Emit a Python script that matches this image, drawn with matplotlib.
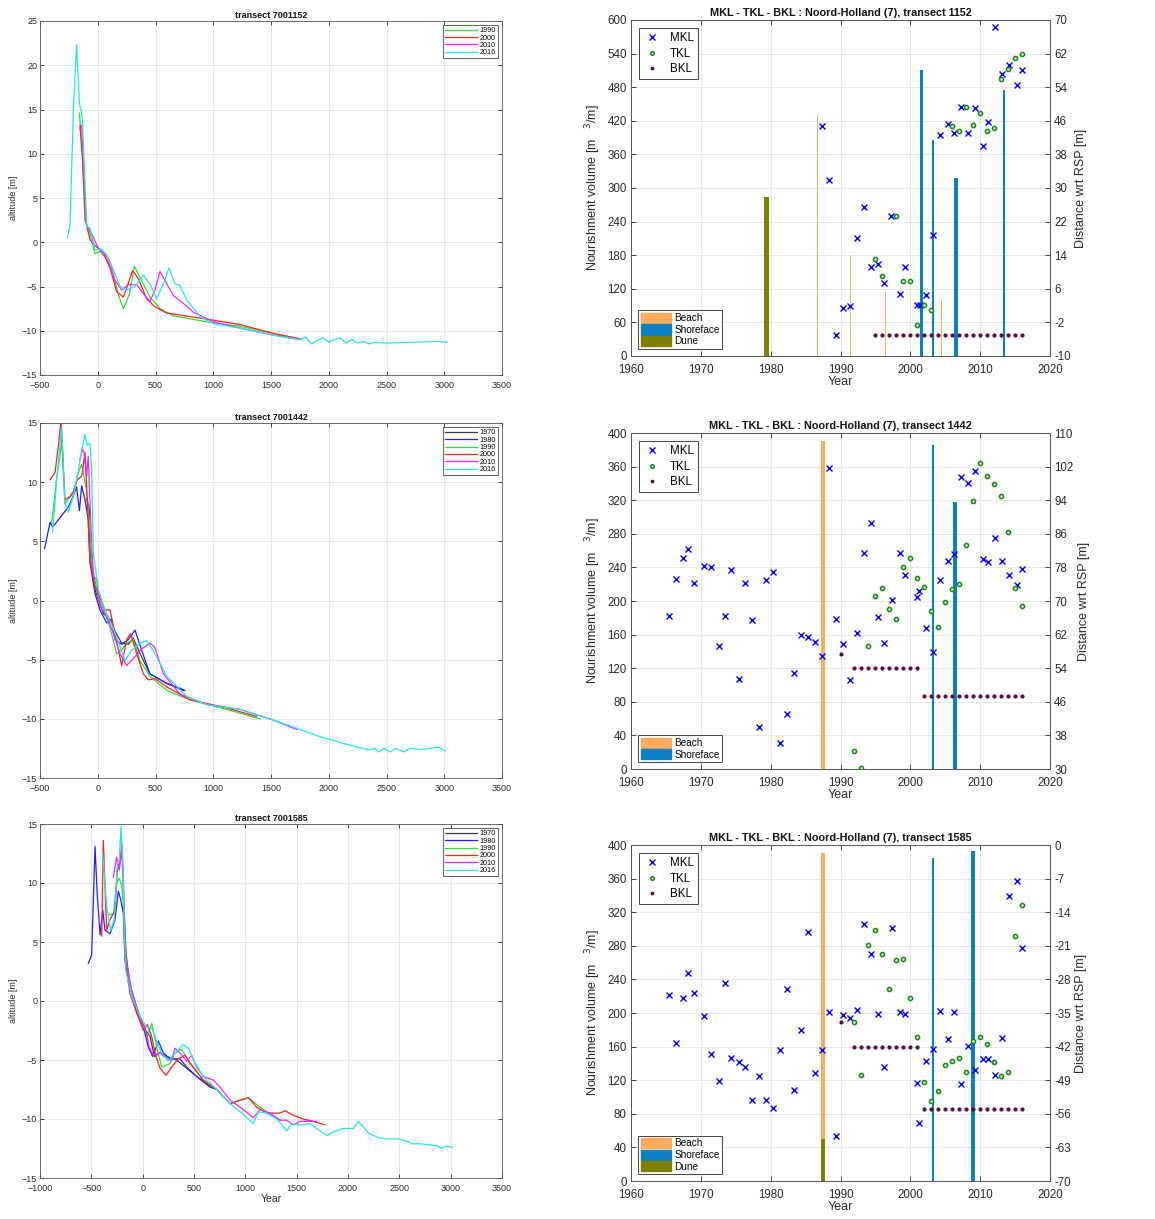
import matplotlib
matplotlib.use("Agg")
import matplotlib.pyplot as plt
from matplotlib.patches import Patch

plt.rcParams['font.family'] = ['Liberation Sans', 'DejaVu Sans']

# ---------------- profile data (cross-shore distance [m], altitude [m]) ----------------
p1152_1990 = [(-159, 14.6), (-148, 12.8), (-131, 9.3), (-110, 2.5), (-67, 1.0), (-24, -1.3), (19, -1.0),
              (63, -1.7), (120, -2.8), (178, -5.9), (222, -7.5), (273, -5.9), (317, -2.7), (366, -4.0),
              (452, -6.2), (539, -7.5), (654, -8.3), (943, -9.0), (1232, -9.5), (1520, -10.3), (1693, -10.9)]
p1152_2000 = [(-154, 13.2), (-131, 9.3), (-107, 2.5), (-67, 0.3), (-24, -0.4), (48, -1.2), (106, -2.9),
              (164, -5.6), (222, -6.2), (265, -4.6), (302, -3.2), (351, -4.1), (424, -6.4), (496, -7.3),
              (597, -8.0), (799, -8.4), (1001, -8.8), (1232, -9.3), (1520, -10.3), (1751, -10.9)]
p1152_2010 = [(-154, 12.8), (-139, 13.2), (-125, 9.3), (-96, 1.8), (-53, 1.0), (5, -0.7), (77, -1.6),
              (149, -4.3), (207, -5.4), (265, -4.8), (337, -4.8), (395, -5.8), (452, -6.7), (496, -5.4),
              (539, -3.3), (597, -4.7), (654, -6.0), (741, -6.9), (828, -7.9), (1001, -9.0), (1232, -9.7),
              (1520, -10.5), (1751, -11.0)]
p1152_2016 = [(-263, 0.5), (-240, 2.0), (-211, 15.0), (-183, 22.3), (-159, 15.7), (-136, 14.4), (-119, 9.3),
              (-96, 1.8), (-67, 1.6), (-24, -0.9), (25, -0.7), (77, -1.4), (135, -3.1), (193, -5.0),
              (250, -5.4), (323, -5.0), (395, -3.7), (452, -4.7), (510, -6.4), (568, -4.7), (617, -2.9),
              (669, -4.7), (712, -4.9), (770, -6.5), (885, -8.4), (1001, -9.2), (1232, -9.7), (1520, -10.5),
              (1751, -11.0), (1800, -10.7), (1850, -11.5), (1900, -11.1), (1950, -10.8), (2000, -11.3),
              (2050, -11.0), (2100, -10.8), (2150, -11.4), (2200, -11.0), (2250, -11.4), (2300, -11.2),
              (2350, -11.5), (2400, -11.3), (2500, -11.4), (2700, -11.3), (2950, -11.2), (3020, -11.3)]

p1442_1970 = [(-96, 8.6), (-73, 7.8), (-67, 4.4), (-24, 0.9), (48, -1.1), (106, -1.6), (149, -2.6),
              (207, -3.6), (265, -3.7), (308, -3.2), (366, -4.5), (452, -6.2), (597, -7.0), (683, -7.3),
              (755, -7.6)]
p1442_1980 = [(-460, 4.4), (-413, 6.6), (-390, 6.2), (-255, 7.9), (-226, 8.5), (-183, 9.6), (-159, 7.6),
              (-139, 9.7), (-110, 8.5), (-82, 6.8), (-67, 3.2), (-24, 0.6), (19, -0.8), (77, -1.9),
              (120, -1.6), (149, -3.3), (207, -3.7), (265, -3.3), (323, -2.5), (380, -4.2), (452, -6.2),
              (597, -7.0), (741, -7.6)]
p1442_1990 = [(-399, 6.5), (-356, 10.3), (-327, 12.2), (-312, 13.6), (-284, 8.2), (-211, 9.1), (-168, 10.8),
              (-139, 11.5), (-96, 9.3), (-73, 6.8), (-53, 3.3), (5, 0.2), (63, -1.1), (106, -2.3),
              (164, -4.5), (207, -4.2), (250, -3.6), (308, -3.3), (366, -5.1), (452, -6.4), (597, -7.6),
              (799, -8.4), (1116, -9.2), (1405, -10.0)]
p1442_2000 = [(-413, 10.2), (-370, 10.8), (-341, 13.1), (-318, 15.2), (-284, 8.5), (-240, 8.8), (-211, 9.2),
              (-177, 10.2), (-139, 10.5), (-110, 12.5), (-96, 9.5), (-67, 3.3), (-24, 1.2), (5, 0.6),
              (63, -0.8), (106, -0.8), (149, -2.8), (207, -5.5), (250, -3.3), (285, -2.8), (337, -4.5),
              (395, -6.2), (438, -6.7), (496, -6.6), (597, -7.3), (799, -8.4), (1087, -9.0), (1376, -9.8)]
p1442_2010 = [(-154, 11.9), (-131, 12.8), (-119, 12.5), (-96, 10.5), (-82, 12.2), (-61, 6.8), (-38, 2.0),
              (-9, 1.8), (19, -0.5), (77, -1.3), (135, -2.8), (193, -4.5), (250, -5.5), (308, -4.9),
              (380, -4.1), (452, -3.6), (496, -4.0), (568, -6.2), (712, -7.9), (943, -8.8), (1232, -9.2),
              (1520, -10.1), (1722, -10.9)]
p1442_2016 = [(-390, 5.8), (-356, 10.2), (-312, 14.7), (-284, 8.2), (-255, 7.5), (-211, 8.8), (-168, 11.0),
              (-139, 12.7), (-110, 14.0), (-90, 13.1), (-67, 13.3), (-53, 11.0), (-38, 4.0), (5, 0.9),
              (63, -0.8), (120, -2.0), (193, -3.9), (236, -5.1), (294, -4.2), (366, -3.6), (424, -3.4),
              (496, -4.5), (597, -6.4), (770, -8.1), (943, -8.8), (1232, -9.2), (1520, -10.1), (1924, -11.5),
              (2100, -12.0), (2250, -12.4), (2350, -12.6), (2400, -12.5), (2430, -12.8), (2480, -12.5),
              (2530, -12.8), (2580, -12.5), (2650, -12.8), (2700, -12.5), (2800, -12.6), (2950, -12.4),
              (3010, -12.7)]

p1585_1970 = [(-195, 8.0), (-178, 7.2), (-162, 4.0), (-123, 1.2), (-58, -1.0), (7, -2.2), (72, -3.0),
              (114, -4.7), (169, -4.4), (234, -4.7), (331, -5.0), (429, -5.7), (526, -6.4), (624, -7.0),
              (721, -7.5)]
p1585_1980 = [(-529, 3.2), (-497, 3.9), (-464, 13.1), (-441, 8.8), (-415, 5.6), (-389, 7.7), (-367, 6.0),
              (-318, 5.7), (-269, 6.9), (-237, 9.3), (-214, 8.6), (-188, 7.4), (-172, 3.5), (-139, 1.8),
              (-58, -0.5), (7, -2.2), (55, -3.9), (98, -4.7), (153, -3.4), (202, -4.4), (266, -4.9),
              (364, -4.9), (429, -5.6), (526, -6.4), (656, -7.3), (721, -7.5)]
p1585_1990 = [(-325, 7.3), (-285, 7.4), (-253, 10.0), (-227, 10.4), (-204, 9.8), (-182, 7.4), (-165, 3.5),
              (-107, 0.6), (-26, -1.3), (46, -3.0), (65, -2.5), (88, -1.9), (137, -3.9), (185, -5.6),
              (266, -5.3), (315, -4.4), (380, -4.1), (445, -5.0), (591, -6.7), (721, -7.5), (851, -8.7),
              (948, -8.4), (1030, -8.2), (1143, -9.0), (1273, -9.8), (1338, -10.1)]
p1585_2000 = [(-399, 5.5), (-383, 13.6), (-367, 9.7), (-350, 6.0), (-318, 6.9), (-269, 7.7), (-247, 11.1),
              (-227, 11.4), (-204, 12.7), (-188, 9.7), (-172, 3.5), (-123, 0.6), (-58, -1.0), (7, -2.5),
              (46, -2.0), (88, -3.0), (120, -4.4), (169, -5.7), (228, -6.3), (283, -5.6), (348, -4.9),
              (413, -4.6), (461, -5.3), (591, -6.7), (721, -7.5), (851, -8.7), (916, -8.5), (1030, -8.2),
              (1111, -9.0), (1208, -9.5), (1338, -9.5), (1387, -9.3), (1468, -9.7), (1565, -10.0),
              (1663, -10.2), (1776, -10.5)]
p1585_2010 = [(-285, 10.5), (-253, 12.2), (-227, 11.1), (-204, 13.4), (-188, 10.8), (-172, 4.0), (-107, 0.9),
              (-26, -1.6), (23, -2.2), (65, -3.9), (104, -4.6), (169, -4.4), (234, -4.9), (283, -5.0),
              (315, -4.0), (364, -4.4), (429, -5.1), (478, -4.6), (526, -5.6), (591, -6.4), (689, -6.7),
              (753, -7.3), (851, -8.4), (981, -9.2), (1078, -9.9), (1143, -9.2), (1241, -9.5), (1338, -10.1),
              (1403, -10.1), (1468, -10.5), (1533, -10.2), (1598, -10.2), (1695, -10.2)]
p1585_2016 = [(-389, 12.5), (-350, 8.0), (-311, 6.0), (-276, 6.9), (-247, 11.7), (-227, 12.0), (-211, 14.8),
              (-195, 12.2), (-182, 6.9), (-165, 2.6), (-107, 0.4), (-26, -1.3), (39, -2.2), (88, -2.3),
              (137, -3.4), (185, -4.4), (250, -5.1), (315, -4.4), (396, -3.7), (445, -4.0), (494, -5.0),
              (591, -6.4), (721, -7.5), (851, -8.7), (965, -9.5), (1078, -10.4), (1127, -9.4), (1208, -9.5),
              (1306, -10.0), (1403, -11.0), (1452, -10.4), (1533, -10.5), (1630, -10.4), (1695, -10.8),
              (1793, -11.4), (1858, -11.1), (1955, -10.8), (2052, -10.8), (2101, -10.2), (2200, -11.2),
              (2300, -11.6), (2400, -11.7), (2500, -11.7), (2580, -11.9), (2620, -12.1), (2700, -12.1),
              (2800, -12.2), (2880, -12.3), (2910, -12.5), (2950, -12.3), (3020, -12.4)]

# ---------------- nourishment bars (year, volume m3/m) ----------------
n1152_beach = [(1986.7, 430), (1991.4, 180), (1996.4, 115), (2004.5, 100)]
n1152_shore = [(2001.6, 510), (2003.25, 385), (2006.5, 318), (2013.45, 475)]
n1152_dune = [(1979.45, 284)]
n1442_beach = [(1987.47, 390)]
n1442_shore = [(2003.25, 386), (2006.45, 318)]
n1585_beach = [(1987.5, 390)]
n1585_shore = [(2003.25, 385), (2008.97, 393)]
n1585_dune = [(1987.5, 50)]

# ---------------- MKL / TKL / BKL (year, distance wrt RSP [m]) ----------------
mkl_1152 = [(1987.4, 44.7), (1988.3, 31.8), (1989.4, -5.1), (1990.3, 1.5), (1991.3, 2.0), (1992.3, 18.1),
            (1993.3, 25.5), (1994.3, 11.2), (1995.3, 12.0), (1996.3, 7.4), (1997.3, 23.3), (1998.5, 4.8),
            (1999.3, 11.1), (2000.9, 2.1), (2001.4, 2.1), (2002.2, 4.6), (2003.3, 18.7), (2004.3, 42.5),
            (2005.4, 45.2), (2006.3, 43.1), (2007.3, 49.3), (2008.3, 43.2), (2009.3, 49.1), (2010.4, 40.0),
            (2011.1, 45.7), (2012.1, 68.3), (2013.1, 57.1), (2014.1, 59.4), (2015.3, 54.6), (2016.0, 58.2)]
tkl_1152 = [(1995, 13.0), (1996, 9.0), (1998, 23.3), (1999, 7.9), (2000, 7.9), (2001, -2.7), (2002, 2.2),
            (2003, 0.9), (2006, 44.7), (2007, 43.5), (2008, 49.3), (2009, 45.1), (2010, 47.9), (2011, 43.5),
            (2012, 44.3), (2013, 55.9), (2014, 58.4), (2015, 61.0), (2016, 62.0)]
bkl_1152 = [(1995, -5), (1996, -5), (1997, -5), (1998, -5), (1999, -5), (2000, -5), (2001, -5), (2002, -5),
            (2003, -5), (2004, -5), (2005, -5), (2006, -5), (2007, -5), (2008, -5), (2009, -5), (2010, -5),
            (2011, -5), (2012, -5), (2013, -5), (2014, -5), (2015, -5), (2016, -5)]

mkl_1442 = [(1965.5, 66.5), (1966.4, 75.2), (1967.5, 80.3), (1968.1, 82.5), (1969.0, 74.2), (1970.5, 78.4),
            (1971.5, 78.0), (1972.6, 59.4), (1973.4, 66.4), (1974.3, 77.5), (1975.5, 51.5), (1976.3, 74.4),
            (1977.3, 65.4), (1978.4, 40.0), (1979.3, 75.0), (1980.3, 76.9), (1981.4, 36.1), (1982.3, 43.1),
            (1983.3, 52.8), (1984.3, 61.9), (1985.4, 61.5), (1986.4, 60.2), (1987.4, 56.9), (1988.3, 101.7),
            (1989.4, 65.8), (1990.4, 59.8), (1991.3, 51.1), (1992.3, 62.3), (1993.3, 81.5), (1994.3, 88.6),
            (1995.3, 66.1), (1996.3, 60.1), (1997.4, 70.3), (1998.5, 81.4), (1999.3, 76.2), (2001.0, 70.9),
            (2001.3, 72.5), (2002.2, 63.5), (2003.3, 57.9), (2004.3, 74.9), (2005.4, 79.6), (2006.3, 81.2),
            (2007.3, 99.5), (2008.3, 98.0), (2009.3, 101.0), (2010.4, 80.0), (2011.1, 79.2), (2012.1, 85.0),
            (2013.1, 79.5), (2014.1, 76.1), (2015.3, 73.8), (2016.0, 77.7)]
tkl_1442 = [(1992, 34.3), (1993, 30.3), (1994, 59.2), (1995, 71.1), (1996, 73.0), (1997, 68.2), (1998, 65.8),
            (1999, 78.2), (2000, 80.2), (2001, 75.4), (2002, 73.4), (2003, 67.7), (2004, 63.8), (2005, 69.7),
            (2006, 72.8), (2007, 74.1), (2008, 83.3), (2009, 93.8), (2010, 102.9), (2011, 99.8), (2012, 97.8),
            (2013, 94.9), (2014, 86.4), (2015, 73.0), (2016, 68.9)]
bkl_1442 = [(1990, 57.3), (1992, 54), (1993, 54), (1994, 54), (1995, 54), (1996, 54), (1997, 54), (1998, 54),
            (1999, 54), (2000, 54), (2001, 54), (2002, 47.4), (2003, 47.4), (2004, 47.4), (2005, 47.4),
            (2006, 47.4), (2007, 47.4), (2008, 47.4), (2009, 47.4), (2010, 47.4), (2011, 47.4), (2012, 47.4),
            (2013, 47.4), (2014, 47.4), (2015, 47.4), (2016, 47.4)]

mkl_1585 = [(1965.5, -31.3), (1966.4, -41.3), (1967.5, -31.9), (1968.1, -26.7), (1969.0, -30.9), (1970.5, -35.7),
            (1971.5, -43.5), (1972.6, -49.1), (1973.4, -28.7), (1974.3, -44.4), (1975.5, -45.3), (1976.3, -46.3),
            (1977.3, -53.2), (1978.4, -48.1), (1979.3, -53.2), (1980.3, -54.7), (1981.4, -42.7), (1982.3, -29.9),
            (1983.3, -51.1), (1984.3, -38.6), (1985.4, -18.1), (1986.4, -47.6), (1987.4, -42.7), (1988.3, -34.7),
            (1989.4, -60.6), (1990.4, -35.4), (1991.3, -36.0), (1992.3, -34.3), (1993.3, -16.4), (1994.3, -22.7),
            (1995.3, -35.3), (1996.3, -46.3), (1997.4, -17.2), (1998.5, -34.7), (1999.3, -35.3), (2001.0, -49.5),
            (2001.3, -58.0), (2002.2, -44.9), (2003.3, -42.6), (2004.3, -34.5), (2005.4, -40.4), (2006.3, -34.7),
            (2007.3, -49.8), (2008.3, -41.8), (2009.3, -46.8), (2010.4, -44.5), (2011.1, -44.5), (2012.1, -48.0),
            (2013.1, -40.3), (2014.1, -10.6), (2015.3, -7.6), (2016.0, -21.5)]
tkl_1585 = [(1992, -36.9), (1993, -47.9), (1994, -20.8), (1995, -17.8), (1996, -22.8), (1997, -29.9),
            (1998, -24.0), (1999, -23.8), (2000, -31.9), (2001, -39.9), (2002, -49.4), (2003, -53.3),
            (2004, -51.3), (2005, -45.9), (2006, -44.9), (2007, -44.4), (2008, -47.2), (2009, -40.8),
            (2010, -40.0), (2011, -41.5), (2012, -45.3), (2013, -48.1), (2014, -47.2), (2015, -19.0), (2016, -12.5)]
bkl_1585 = [(1990, -36.9), (1992, -42), (1993, -42), (1994, -42), (1995, -42), (1996, -42), (1997, -42),
            (1998, -42), (1999, -42), (2000, -42), (2001, -42), (2002, -55), (2003, -55), (2004, -55),
            (2005, -55), (2006, -55), (2007, -55), (2008, -55), (2009, -55), (2010, -55), (2011, -55),
            (2012, -55), (2013, -55), (2014, -55), (2015, -55), (2016, -55)]

# ---------------- styles ----------------
YEAR_COLORS = {'1970': '#3a3a3a', '1980': '#1f1fff', '1990': '#2ee02e', '2000': '#ff2020',
               '2010': '#ff20ff', '2016': '#20e8e8'}
C_BEACH, C_SHORE, C_DUNE = '#fdab5c', '#0a80c4', '#7f7f00'
TXT = '#262626'
W, H = 1155, 1219

fig = plt.figure(figsize=(W / 100, H / 100), dpi=100)


def px_axes(left, top, right, bottom):
    return fig.add_axes([left / W, 1 - bottom / H, (right - left) / W, (bottom - top) / H])


def profile_panel(box, title, profiles, xlim, ylim, xlabel=None):
    ax = px_axes(*box)
    for year, pts in profiles:
        ax.plot([p[0] for p in pts], [p[1] for p in pts], color=YEAR_COLORS[year], lw=0.9, label=year)
    ax.set_xlim(*xlim)
    ax.set_ylim(*ylim)
    ax.set_xticks(range(xlim[0], xlim[1] + 1, 500))
    ax.set_yticks(range(ylim[0], ylim[1] + 1, 5))
    ax.grid(True, color='#e3e3e3', lw=0.6)
    ax.set_axisbelow(True)
    ax.tick_params(direction='in', top=True, right=True, labelsize=6.5, colors=TXT, length=3, width=0.6, pad=2)
    ax.tick_params(axis='x', pad=4)
    for s in ax.spines.values():
        s.set_color('#555555')
        s.set_linewidth(0.6)
    ax.set_title(title, fontsize=6.5, fontweight='bold', pad=2, color='#111111')
    ax.set_ylabel('altitude [m]', fontsize=6.5, color=TXT, labelpad=3)
    if xlabel:
        ax.set_xlabel(xlabel, fontsize=7.5, color=TXT, labelpad=1)
    leg = ax.legend(loc='upper right', fontsize=5.2, handlelength=4.5, labelspacing=0.05, borderpad=0.25,
                    handletextpad=0.3, fancybox=False, edgecolor='#444444', framealpha=1, borderaxespad=0.6)
    leg.get_frame().set_linewidth(0.6)
    return ax


def nourish_panel(box, title, beach, shore, dune, mkl, tkl, bkl, ylim2, beach_w, shore_w, dune_w):
    ax = px_axes(*box)
    ax.bar([b[0] for b in beach], [b[1] for b in beach], width=beach_w, color=C_BEACH, zorder=2)
    ax.bar([b[0] for b in shore], [b[1] for b in shore], width=shore_w, color=C_SHORE, zorder=2)
    if dune:
        ax.bar([b[0] for b in dune], [b[1] for b in dune], width=dune_w, color=C_DUNE, zorder=3)
    ax.set_xlim(1960, 2020)
    ymax = 600 if len(beach) > 1 else 400
    ax.set_ylim(0, ymax)
    ax.set_yticks(range(0, ymax + 1, ymax // 10))
    ax.set_xticks(range(1960, 2021, 10))
    ax.grid(True, color='#e6e6e6', lw=0.7)
    ax.set_axisbelow(True)
    ax.tick_params(direction='in', top=True, labelsize=8.3, colors=TXT, length=3.5, width=0.6, pad=3)
    ax.tick_params(axis='x', pad=6)
    ax.set_xlabel('Year', fontsize=9, color=TXT, labelpad=0)
    ax.set_ylabel('Nourishment volume [m   $^{3}$/m]', fontsize=9, color=TXT, labelpad=3)
    ax.set_title(title, fontsize=7.8, fontweight='bold', pad=3, color='#111111')

    ax2 = ax.twinx()
    ax2.plot([p[0] for p in mkl], [p[1] for p in mkl], 'x', color='#0000ff', ms=5, mew=1.0, label='MKL')
    ax2.plot([p[0] for p in tkl], [p[1] for p in tkl], 'o', mfc='#d8f2d8', mec='#138a13', ms=3.0, mew=1.1,
             label='TKL')
    ax2.plot([p[0] for p in bkl], [p[1] for p in bkl], '.', color='#5a0a46', ms=4, label='BKL')
    ax2.set_ylim(*ylim2)
    step = (ylim2[1] - ylim2[0]) / 10
    ax2.set_yticks([ylim2[0] + i * step for i in range(11)])
    ax2.yaxis.set_major_formatter(matplotlib.ticker.FuncFormatter(lambda v, p: '%d' % round(v)))
    ax2.tick_params(direction='in', labelsize=8.3, colors=TXT, length=3.5, width=0.6, pad=3)
    ax2.set_ylabel('Distance wrt RSP [m]', fontsize=9, color=TXT, labelpad=3)
    for a in (ax, ax2):
        for s in a.spines.values():
            s.set_color('#555555')
            s.set_linewidth(0.6)

    leg1 = ax2.legend(loc='upper left', fontsize=8.3, handlelength=1.6, handletextpad=0.7, labelspacing=0.3,
                      borderpad=0.35, fancybox=False, edgecolor='#444444', framealpha=1, borderaxespad=0.7,
                      markerscale=0.85)
    leg1.get_frame().set_linewidth(0.7)
    ax2.add_artist(leg1)
    patches = [Patch(color=C_BEACH, label='Beach'), Patch(color=C_SHORE, label='Shoreface')]
    if dune:
        patches.append(Patch(color=C_DUNE, label='Dune'))
    leg2 = ax2.legend(handles=patches, loc='lower left', fontsize=7.2, handlelength=3.0, handleheight=1.2,
                      labelspacing=0.1, borderpad=0.25, handletextpad=0.4, fancybox=False,
                      edgecolor='#444444', framealpha=1, borderaxespad=0.7)
    leg2.get_frame().set_linewidth(0.7)
    return ax, ax2


profile_panel((40, 21, 502, 375), 'transect 7001152',
              [('1990', p1152_1990), ('2000', p1152_2000), ('2010', p1152_2010), ('2016', p1152_2016)],
              (-500, 3500), (-15, 25))
profile_panel((40, 423, 502, 778), 'transect 7001442',
              [('1970', p1442_1970), ('1980', p1442_1980), ('1990', p1442_1990), ('2000', p1442_2000),
               ('2010', p1442_2010), ('2016', p1442_2016)],
              (-500, 3500), (-15, 15))
profile_panel((40, 824, 502, 1178), 'transect 7001585',
              [('1970', p1585_1970), ('1980', p1585_1980), ('1990', p1585_1990), ('2000', p1585_2000),
               ('2010', p1585_2010), ('2016', p1585_2016)],
              (-1000, 3500), (-15, 15), xlabel='Year')

nourish_panel((631, 20, 1050, 356), 'MKL - TKL - BKL : Noord-Holland (7), transect 1152',
              n1152_beach, n1152_shore, n1152_dune, mkl_1152, tkl_1152, bkl_1152, (-10, 70),
              [0.24, 0.12, 0.19, 0.19], [0.38, 0.33, 0.62, 0.29], 0.72)
nourish_panel((631, 433, 1050, 769), 'MKL - TKL - BKL : Noord-Holland (7), transect 1442',
              n1442_beach, n1442_shore, None, mkl_1442, tkl_1442, bkl_1442, (30, 110),
              [0.6], [0.33, 0.6], None)
nourish_panel((631, 845, 1050, 1181), 'MKL - TKL - BKL : Noord-Holland (7), transect 1585',
              n1585_beach, n1585_shore, n1585_dune, mkl_1585, tkl_1585, bkl_1585, (-70, 0),
              [0.55], [0.33, 0.48], 0.45)

fig.savefig('out.png', dpi=100)
